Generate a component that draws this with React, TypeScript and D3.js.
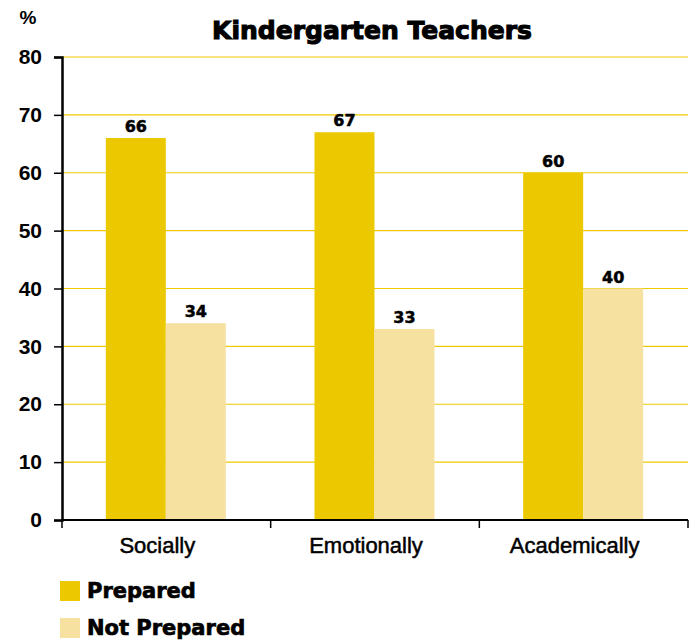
import { useEffect, useRef } from 'react'
import * as d3 from 'd3'

const categories = ['Socially', 'Emotionally', 'Academically']
const series = ['Prepared', 'Not Prepared']
const prepared = [66, 67, 60]
const notPrepared = [34, 33, 40]
const yTicks = [0, 10, 20, 30, 40, 50, 60, 70, 80]

const colors = { prepared: '#ecc800', notPrepared: '#f6e1a0', grid: '#eec900', ink: '#000' }
const font = '"Liberation Sans", Arial, sans-serif'
const heavy = '"DejaVu Sans", sans-serif'

export default function App() {
  const ref = useRef<SVGSVGElement>(null)

  useEffect(() => {
    if (!ref.current) return
    document.body.style.margin = '0'

    const W = 690
    const H = 640
    const margin = { top: 57, right: 2, bottom: 120, left: 62 }
    const inner = { w: W - margin.left - margin.right, h: H - margin.top - margin.bottom }

    d3.select(ref.current).selectAll('*').remove()
    const svg = d3.select(ref.current).attr('width', W).attr('height', H).style('font-family', font)
    const g = svg.append('g').attr('transform', `translate(${margin.left},${margin.top})`)

    const x0 = d3.scaleBand().domain(categories).range([0, inner.w])
    const bw = x0.bandwidth()
    const x1 = d3.scaleBand().domain(series).range([bw / 2 - bw * 0.29, bw / 2 + bw * 0.285])
    const y = d3.scaleLinear().domain([0, 80]).range([inner.h, 0])

    // grid
    g.append('g')
      .selectAll('line')
      .data(yTicks.filter((t) => t > 0))
      .join('line')
      .attr('x1', 0)
      .attr('x2', inner.w)
      .attr('y1', (d) => y(d))
      .attr('y2', (d) => y(d))
      .attr('stroke', colors.grid)
      .attr('stroke-width', 1.2)

    const rows = categories.map((c, i) => ({ c, vals: [prepared[i], notPrepared[i]] }))
    const fills = [colors.prepared, colors.notPrepared]

    const groups = g.selectAll('.grp').data(rows).join('g').attr('transform', (d) => `translate(${x0(d.c)},0)`)
    groups
      .selectAll('rect')
      .data((d) => d.vals.map((v, j) => ({ v, s: series[j], j })))
      .join('rect')
      .attr('x', (d) => x1(d.s)!)
      .attr('y', (d) => y(d.v))
      .attr('width', x1.bandwidth())
      .attr('height', (d) => inner.h - y(d.v))
      .attr('fill', (d) => fills[d.j])
    groups
      .selectAll('text')
      .data((d) => d.vals.map((v, j) => ({ v, s: series[j] })))
      .join('text')
      .attr('x', (d) => x1(d.s)! + x1.bandwidth() / 2)
      .attr('y', (d) => y(d.v) - 6)
      .attr('text-anchor', 'middle')
      .attr('font-family', heavy)
      .attr('font-size', 16)
      .attr('font-weight', 'bold')
      .attr('stroke', colors.ink)
      .attr('stroke-width', 0.5)
      .text((d) => d.v)

    // y axis
    g.append('g')
      .call(d3.axisLeft(y).tickValues(yTicks).tickSize(8).tickPadding(12))
      .call((sel) => sel.select('.domain').attr('stroke', colors.ink).attr('stroke-width', 2.5))
      .call((sel) => sel.selectAll('.tick line').attr('stroke', colors.ink).attr('stroke-width', 1.5))
      .call((sel) =>
        sel.selectAll('text').attr('font-size', 21).attr('font-weight', 'bold').attr('font-family', font).attr('fill', colors.ink)
      )

    // x axis
    const xa = g.append('g').attr('transform', `translate(0,${inner.h})`)
    xa.append('line').attr('x1', 0).attr('x2', inner.w).attr('stroke', colors.ink).attr('stroke-width', 2)
    xa.selectAll('.xt')
      .data([0, ...categories.map((c) => x0(c)! + bw)])
      .join('line')
      .attr('x1', (d) => d)
      .attr('x2', (d) => d)
      .attr('y1', 0)
      .attr('y2', 8)
      .attr('stroke', colors.ink)
      .attr('stroke-width', 1.5)
    xa.selectAll('text')
      .data(categories)
      .join('text')
      .attr('x', (d) => x0(d)! + bw / 2 - 9)
      .attr('y', 33)
      .attr('text-anchor', 'middle')
      .attr('font-size', 22)
      .attr('stroke', colors.ink)
      .attr('stroke-width', 0.5)
      .text((d) => d)

    // title & unit
    svg.append('text')
      .attr('x', 372)
      .attr('y', 39)
      .attr('text-anchor', 'middle')
      .attr('font-family', heavy)
      .attr('font-size', 25)
      .attr('font-weight', 'bold')
      .attr('stroke', colors.ink)
      .attr('stroke-width', 1.1)
      .text('Kindergarten Teachers')
    svg.append('text').attr('x', 28).attr('y', 24).attr('text-anchor', 'middle').attr('font-size', 19).attr('font-weight', 'bold').text('%')

    // legend
    const lg = svg.append('g').attr('transform', 'translate(60,581)')
    const items = lg.selectAll('g').data(series).join('g').attr('transform', (_, i) => `translate(0,${i * 37})`)
    items.append('rect').attr('width', 20).attr('height', 20).attr('fill', (_, i) => fills[i])
    items
      .append('text')
      .attr('x', 27)
      .attr('y', 17)
      .attr('font-family', heavy)
      .attr('font-size', 21)
      .attr('font-weight', 'bold')
      .attr('stroke', colors.ink)
      .attr('stroke-width', 0.7)
      .text((d) => d)
  }, [])

  return <svg ref={ref} style={{ display: 'block' }} />
}
